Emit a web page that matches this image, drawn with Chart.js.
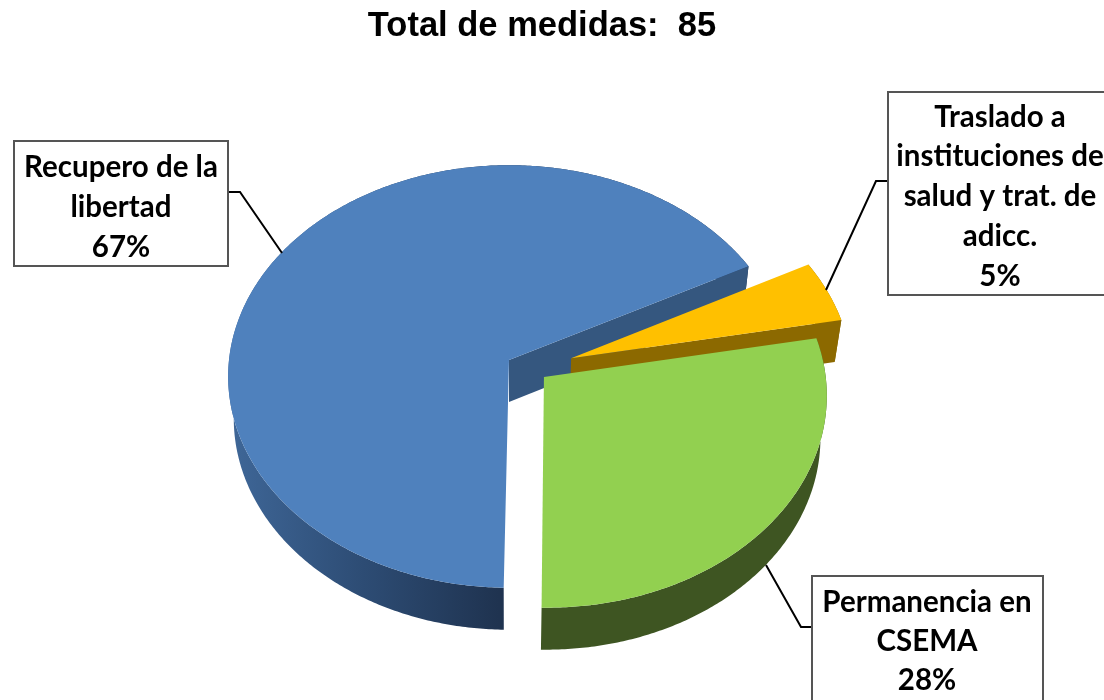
<!DOCTYPE html>
<html>
<head>
<meta charset="utf-8">
<style>
  html, body { margin: 0; padding: 0; background: #fff; overflow: hidden; }
  #wrap { width: 1104px; height: 700px; }
</style>
<script src="https://cdn.jsdelivr.net/npm/chart.js"></script>
</head>
<body>
<div id="wrap"><canvas id="chart"></canvas></div>
<script>
const categories = [
    ['Recupero de la', 'libertad'],
    ['Traslado a', 'instituciones de', 'salud y trat. de', 'adicc.'],
    ['Permanencia en', 'CSEMA']
];
const medidas = [57, 4, 24];
const total = 85;
const topColors = ['#4F81BD', '#FFC000', '#92D050'];
const innerWallColors = ['#35577F', '#8C6900', '#3E5522'];

// look of the tilted pie: camera, explosion of every slice, callouts
const view = { x: 509, y: 360, rx: 280, ry: 210, persp: 0.078, depth: 42, shrink: 0.98 };
const explode = [[0, 0], [0.222, -0.008], [0.124, 0.08]];
const outerWall = [
    [[0, '#3F6798'], [0.26, '#2D4C74'], [0.52, '#1F3350'], [1, '#1F3350']],
    [[0, '#8C6900'], [1, '#8C6900']],
    [[0, '#3E5522'], [1, '#3E5522']]
];
// does the cut face at the end edge of the slice show
const showCut = [true, true, false];
const callouts = [
    { box: [14, 141, 214, 125], cx: 121, first: 167, step: 40, line: [[228, 192], [240, 192], [282, 253]] },
    { box: [888, 92, 224, 203], cx: 1000, first: 117, step: 39.8, line: [[887, 181], [876, 181], [826, 290]] },
    { box: [812, 576, 231, 134], cx: 927, first: 602, step: 39, line: [[812, 627], [801, 627], [766, 565]] }
];

// plane point to screen, level 0 is the top face and level 1 the bottom face
function project(u, v, level) {
    const w = 1 - view.persp * v;
    const s = level ? view.shrink : 1;
    return [view.x + s * view.rx * u / w, view.y + view.ry * v / w + (level ? view.depth : 0)];
}

function rimPoint(angle, off, level) {
    return project(Math.cos(angle) + off[0], Math.sin(angle) + off[1], level);
}

function tracePoints(ctx, pts) {
    ctx.beginPath();
    pts.forEach((p, i) => i ? ctx.lineTo(p[0], p[1]) : ctx.moveTo(p[0], p[1]));
    ctx.closePath();
}

function drawSlice(ctx, arc, i) {
    const off = explode[i];
    const top = [], bottom = [];
    const steps = Math.ceil((arc.endAngle - arc.startAngle) / 0.01);
    for (let s = 0; s <= steps; s++) {
        const a = arc.startAngle + (arc.endAngle - arc.startAngle) * s / steps;
        top.push(rimPoint(a, off, 0));
        bottom.push(rimPoint(a, off, 1));
    }
    const apexTop = project(off[0], off[1], 0);
    const apexBottom = project(off[0], off[1], 1);

    // outer wall
    const xs = top.concat(bottom).map(p => p[0]);
    const left = Math.min.apply(null, xs), right = Math.max.apply(null, xs);
    const grad = ctx.createLinearGradient(left, 0, right, 0);
    outerWall[i].forEach(stop => grad.addColorStop(stop[0], stop[1]));
    ctx.fillStyle = grad;
    tracePoints(ctx, top.concat(bottom.slice().reverse()));
    ctx.fill();

    // radial wall
    if (showCut[i]) {
        ctx.fillStyle = innerWallColors[i];
        tracePoints(ctx, [apexTop, top[steps], bottom[steps], apexBottom]);
        ctx.fill();
    }

    // top face
    ctx.fillStyle = topColors[i];
    tracePoints(ctx, [apexTop].concat(top));
    ctx.fill();
}

function drawCallout(ctx, c, i) {
    ctx.strokeStyle = '#000';
    ctx.lineWidth = 2;
    ctx.beginPath();
    c.line.forEach((p, k) => k ? ctx.lineTo(p[0], p[1]) : ctx.moveTo(p[0], p[1]));
    ctx.stroke();

    ctx.fillStyle = '#fff';
    ctx.strokeStyle = '#555';
    ctx.lineWidth = 2;
    ctx.fillRect(c.box[0], c.box[1], c.box[2], c.box[3]);
    ctx.strokeRect(c.box[0], c.box[1], c.box[2], c.box[3]);

    const lines = categories[i].concat(Math.round(medidas[i] / total * 100) + '%');
    ctx.fillStyle = '#000';
    ctx.font = 'bold 29.5px Lato';
    ctx.textAlign = 'center';
    ctx.textBaseline = 'middle';
    lines.forEach((t, k) => ctx.fillText(t, c.cx, c.first + k * c.step));
}

const pie3d = {
    id: 'pie3d',
    beforeDatasetDraw(chart, args) {
        const ctx = chart.ctx;
        ctx.save();
        chart.getDatasetMeta(args.index).data.forEach((arc, i) => drawSlice(ctx, arc, i));
        ctx.restore();
        return false;
    },
    afterDraw(chart) {
        const ctx = chart.ctx;
        ctx.save();
        callouts.forEach((c, i) => drawCallout(ctx, c, i));
        ctx.restore();
    }
};

new Chart(document.getElementById('chart'), {
    type: 'pie',
    data: {
        labels: categories.map(c => c.join(' ')),
        datasets: [{ data: medidas, backgroundColor: topColors, borderWidth: 0 }]
    },
    options: {
        responsive: true,
        maintainAspectRatio: false,
        animation: false,
        rotation: 181,
        layout: { padding: { right: 20 } },
        plugins: {
            legend: { display: false },
            tooltip: { enabled: false },
            title: {
                display: true,
                text: 'Total de medidas:  ' + total,
                color: '#000',
                font: { family: '"Liberation Sans"', size: 34.5, weight: 'bold' },
                padding: { top: 6, bottom: 10 }
            }
        }
    },
    plugins: [pie3d]
});
</script>
</body>
</html>
